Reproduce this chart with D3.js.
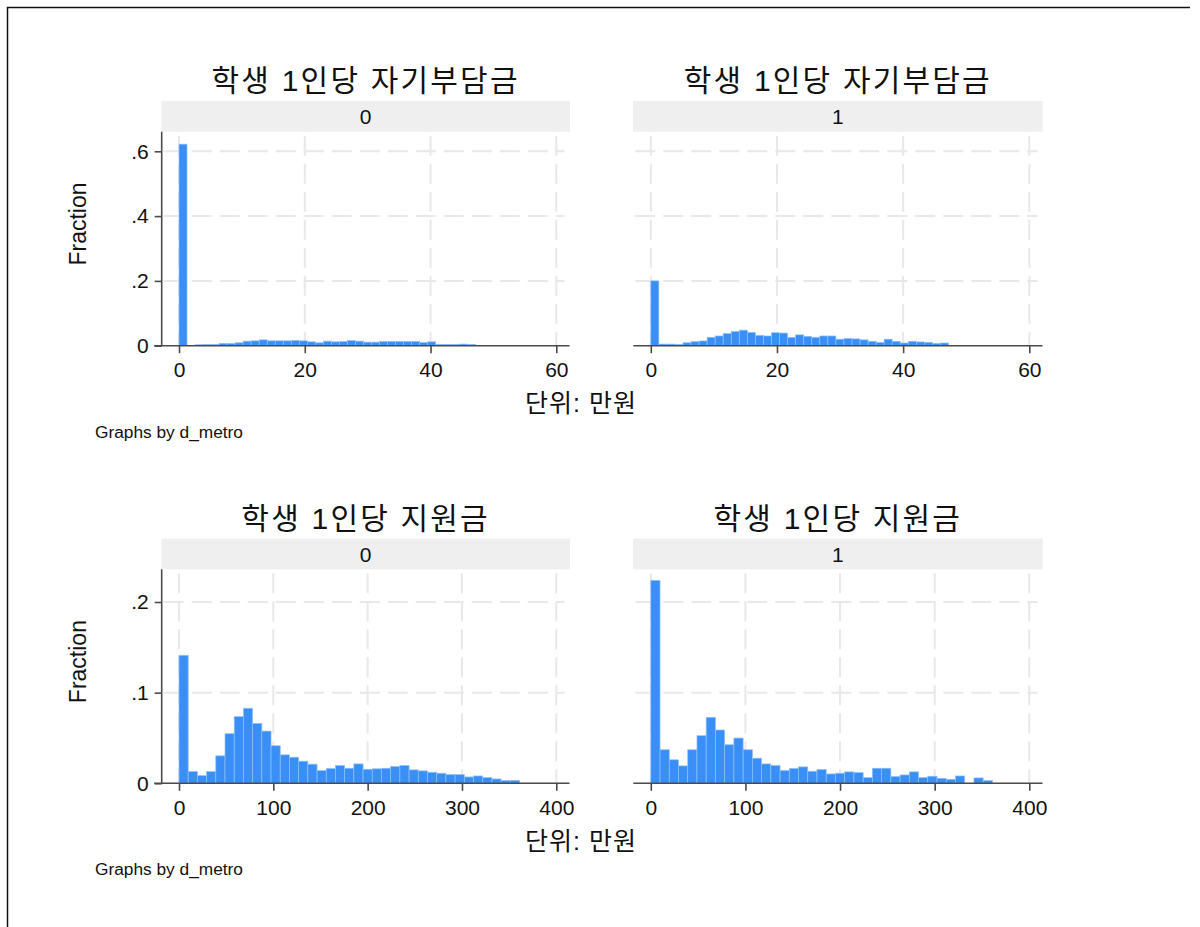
<!DOCTYPE html>
<html>
<head>
<meta charset="utf-8">
<script src="https://cdn.jsdelivr.net/npm/d3@7"></script>
<style>
  body { margin: 0; background: #fff; }
  svg { display: block; }
</style>
</head>
<body>
<svg id="chart" width="1200" height="927"></svg>
<script>
// ---- text ----
const groupLabels = ["0", "1"];
const selfPayTitle = "학생 1인당 자기부담금";
const subsidyTitle = "학생 1인당 지원금";
const xTitle = "단위: 만원";
const yTitle = "Fraction";
const byNote = "Graphs by d_metro";

// ---- histogram bins (37 bins each, fraction of observations) ----
const selfPayBinWidth = 1.2757;
const subsidyBinWidth = 9.757;

const selfPayMetro0 = [0.622, 0.001, 0.003, 0.004, 0.004, 0.007, 0.007, 0.009, 0.014, 0.015,
  0.018, 0.015, 0.015, 0.015, 0.016, 0.015, 0.012, 0.009, 0.014, 0.012,
  0.013, 0.016, 0.014, 0.011, 0.011, 0.013, 0.013, 0.013, 0.013, 0.013,
  0.010, 0.012, 0.004, 0.004, 0.004, 0.005, 0.004];
const selfPayMetro1 = [0.200, 0.005, 0.005, 0.004, 0.009, 0.0125, 0.0146, 0.026, 0.030, 0.0376,
  0.044, 0.048, 0.041, 0.032, 0.030, 0.040, 0.039, 0.026, 0.0335, 0.029,
  0.026, 0.030, 0.030, 0.020, 0.022, 0.021, 0.018, 0.0136, 0.0104, 0.020,
  0.0136, 0.0083, 0.0136, 0.0115, 0.0104, 0.0073, 0.0083];
const subsidyMetro0 = [0.1412, 0.0129, 0.0085, 0.0129, 0.0303, 0.0547, 0.0735, 0.0828, 0.0661, 0.0576,
  0.0414, 0.0314, 0.0288, 0.0244, 0.0211, 0.0140, 0.0163, 0.0196, 0.0166, 0.0214,
  0.0155, 0.0160, 0.0166, 0.0185, 0.0196, 0.0148, 0.0137, 0.0122, 0.0111, 0.0096,
  0.0096, 0.0070, 0.0081, 0.0063, 0.0048, 0.0030, 0.0033];
const subsidyMetro1 = [0.2239, 0.0370, 0.0259, 0.0192, 0.0370, 0.0525, 0.0728, 0.0588, 0.0425, 0.0499,
  0.0370, 0.0277, 0.0214, 0.0196, 0.0140, 0.0163, 0.0181, 0.0133, 0.0152, 0.0103,
  0.0111, 0.0126, 0.0118, 0.0063, 0.0166, 0.0166, 0.0074, 0.0092, 0.0126, 0.0063,
  0.0078, 0.0055, 0.0044, 0.0081, 0.0000, 0.0059, 0.0030];

// ---- axis ticks ----
const selfPayXTicks = [0, 20, 40, 60];
const subsidyXTicks = [0, 100, 200, 300, 400];
const selfPayYTicks = [0, 0.2, 0.4, 0.6];
const selfPayYLabels = ["0", ".2", ".4", ".6"];
const subsidyYTicks = [0, 0.1, 0.2];
const subsidyYLabels = ["0", ".1", ".2"];

// ---- layout ----
const svg = d3.select("#chart");
const LATIN = "'Liberation Sans', Arial, sans-serif";
const MIXED = "'Liberation Sans', 'Noto Sans CJK KR', sans-serif";
const BAR_FILL = "#3a8ff6";
const BAR_EDGE = "#8ec0fa";
const AXIS = "#4a4a4a";
const GRID = "#e8e8e8";

// page frame (top and left rules)
svg.append("line").attr("x1", 7).attr("x2", 1190).attr("y1", 7.5).attr("y2", 7.5)
  .attr("stroke", "#111").attr("stroke-width", 1.5);
svg.append("line").attr("x1", 7.5).attr("x2", 7.5).attr("y1", 7).attr("y2", 927)
  .attr("stroke", "#111").attr("stroke-width", 1.5);

const panelCols = [
  { x0: 161.7, x1: 569.5, xr: [179, 556.3], strip: [161.3, 570], axisY: true },
  { x0: 633.3, x1: 1042.5, xr: [650.8, 1029.3], strip: [633, 1042.7], axisY: false }
];

function drawBlock(cfg) {
  const g = svg.append("g").attr("transform", `translate(0,${cfg.dy})`);
  const base = 345.7;
  const plotTop = 131.7;
  const y = d3.scaleLinear().domain([0, cfg.yRef]).range([base, base - cfg.yRefPx]);

  panelCols.forEach((col, k) => {
    const x = d3.scaleLinear().domain([0, cfg.xTicks[cfg.xTicks.length - 1]]).range(col.xr);
    const cx = (col.strip[0] + col.strip[1]) / 2;

    // panel title
    g.append("text").attr("x", cx).attr("y", 91)
      .attr("text-anchor", "middle").attr("font-family", MIXED)
      .attr("font-size", 30).attr("letter-spacing", 2.2)
      .attr("fill", "#111").text(cfg.title);

    // strip
    g.append("rect").attr("x", col.strip[0]).attr("y", 101)
      .attr("width", col.strip[1] - col.strip[0]).attr("height", 30.7)
      .attr("fill", "#efefef");
    g.append("text").attr("x", cx).attr("y", 116.8).attr("dy", "0.35em")
      .attr("text-anchor", "middle").attr("font-family", LATIN)
      .attr("font-size", 21).attr("fill", "#111").text(groupLabels[k]);

    // gridlines
    const grid = g.append("g").attr("stroke", GRID).attr("stroke-width", 2)
      .attr("stroke-dasharray", "20,8");
    grid.selectAll("line.v").data(cfg.xTicks).join("line")
      .attr("x1", d => x(d)).attr("x2", d => x(d))
      .attr("y1", plotTop + 4).attr("y2", base);
    grid.selectAll("line.h").data(cfg.yTicks.filter(d => d > 0)).join("line")
      .attr("x1", col.x0 + 2).attr("x2", col.x1 - 5)
      .attr("y1", d => y(d)).attr("y2", d => y(d));

    // bars
    const vals = cfg.series[k];
    g.append("g").selectAll("rect").data(vals.map((v, i) => ({ v, i })).filter(d => d.v > 0))
      .join("rect")
      .attr("x", d => x(d.i * cfg.binWidth))
      .attr("width", d => x((d.i + 1) * cfg.binWidth) - x(d.i * cfg.binWidth))
      .attr("y", d => y(d.v))
      .attr("height", d => base - y(d.v))
      .attr("fill", BAR_FILL).attr("stroke", BAR_EDGE).attr("stroke-width", 0.7);

    // x axis
    const xAxis = g.append("g").attr("transform", `translate(0,${base})`)
      .call(d3.axisBottom(x).tickValues(cfg.xTicks).tickFormat(d3.format("d"))
        .tickSize(7.5).tickPadding(9).tickSizeOuter(0));
    xAxis.select(".domain").attr("d", `M${col.x0 - (col.axisY ? 7.5 : 0)},0H${col.x1}`);
    xAxis.selectAll("path, line").attr("stroke", AXIS).attr("stroke-width", 1.6);
    xAxis.selectAll("text").attr("font-family", LATIN).attr("font-size", 21).attr("fill", "#111");

    // y axis (leftmost column only)
    if (col.axisY) {
      const yAxis = g.append("g").attr("transform", `translate(${col.x0},0)`)
        .call(d3.axisLeft(y).tickValues(cfg.yTicks)
          .tickFormat((d, i) => cfg.yLabels[i])
          .tickSize(7).tickPadding(6).tickSizeOuter(0));
      yAxis.select(".domain").attr("d", `M0,${plotTop}V${base}`);
      yAxis.selectAll("path, line").attr("stroke", AXIS).attr("stroke-width", 1.6);
      yAxis.selectAll("text").attr("font-family", LATIN).attr("font-size", 21).attr("fill", "#111");
    }
  });

  // y title
  g.append("text").attr("transform", "translate(86,224) rotate(-90)")
    .attr("text-anchor", "middle").attr("font-family", LATIN)
    .attr("font-size", 23).attr("fill", "#111").text(yTitle);

  // x title
  g.append("text").attr("x", 581).attr("y", 412)
    .attr("text-anchor", "middle").attr("font-family", MIXED)
    .attr("font-size", 25).attr("letter-spacing", 1)
    .attr("fill", "#111").text(xTitle);

  // by-group note
  g.append("text").attr("x", 95).attr("y", 437.5)
    .attr("font-family", LATIN).attr("font-size", 17.3).attr("fill", "#111").text(byNote);
}

drawBlock({
  dy: 0, title: selfPayTitle, binWidth: selfPayBinWidth,
  series: [selfPayMetro0, selfPayMetro1],
  xTicks: selfPayXTicks, yTicks: selfPayYTicks, yLabels: selfPayYLabels,
  yRef: 0.6, yRefPx: 194.4
});
drawBlock({
  dy: 437.6, title: subsidyTitle, binWidth: subsidyBinWidth,
  series: [subsidyMetro0, subsidyMetro1],
  xTicks: subsidyXTicks, yTicks: subsidyYTicks, yLabels: subsidyYLabels,
  yRef: 0.2, yRefPx: 181.3
});
</script>
</body>
</html>
